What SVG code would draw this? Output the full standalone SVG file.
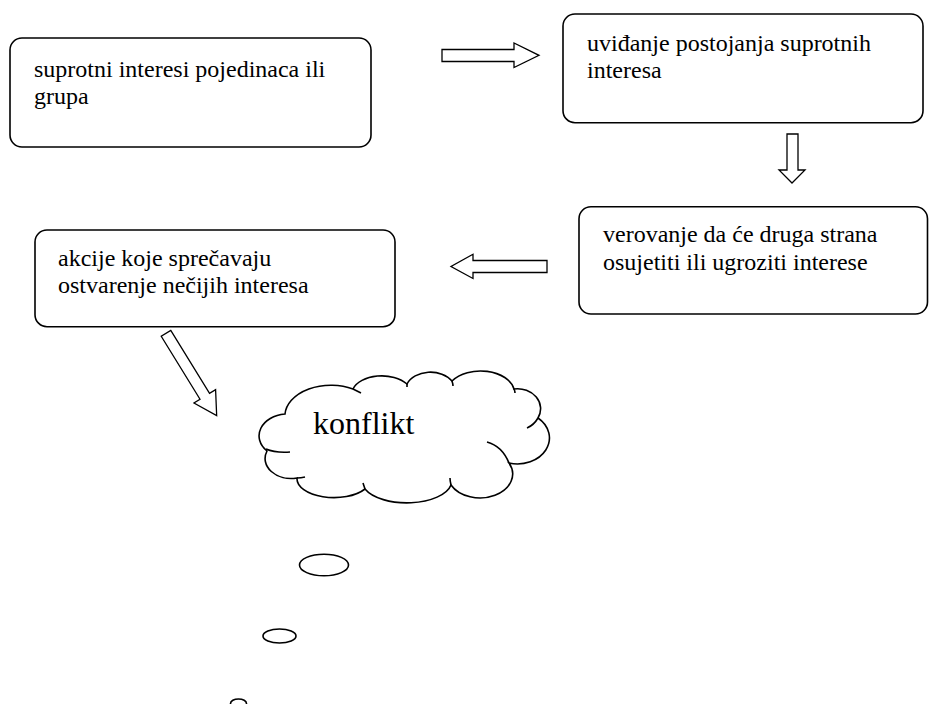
<svg xmlns="http://www.w3.org/2000/svg" width="929" height="704" viewBox="0 0 929 704">
<style>
.box{fill:#fff;stroke:#000;stroke-width:1.6}
.arr{fill:#fff;stroke:#000;stroke-width:1.3;stroke-linejoin:miter}
.lbl{font-family:'Liberation Serif','Times New Roman',serif;font-size:24px;fill:#000}
.cl{fill:#fff;stroke:#000;stroke-width:1.6}
.tail{fill:none;stroke:#000;stroke-width:1.6}
</style>
<rect width="929" height="704" fill="#fff"/>
<g id="connectors">
<polygon class="arr" points="442,49.5 514,49.5 514,43 539,55.3 514,67.5 514,61.5 442,61.5"/>
<polygon class="arr" points="787,134 798,134 798,170 805,170 792,183 779,170 787,170"/>
<polygon class="arr" points="547,260.5 473,260.5 473,254.3 451,266.5 473,278.5 473,272.5 547,272.5"/>
<polygon class="arr" transform="translate(166,333.3) rotate(58.4)" points="0,-5.6 74,-5.6 74,-12.7 96.7,0 74,12.7 74,5.6 0,5.6"/>
</g>
<g id="node1">
<rect class="box" x="10" y="38" width="361" height="109" rx="12"/>
<text class="lbl" font-family="Liberation Serif, serif" font-size="24" x="34" y="77">suprotni interesi pojedinaca ili</text>
<text class="lbl" font-family="Liberation Serif, serif" font-size="24" x="34" y="104">grupa</text>
</g>
<g id="node2">
<rect class="box" x="563" y="14" width="360" height="108.7" rx="12"/>
<text class="lbl" font-family="Liberation Serif, serif" font-size="24" x="587" y="51">uviđanje postojanja suprotnih</text>
<text class="lbl" font-family="Liberation Serif, serif" font-size="24" x="587" y="78">interesa</text>
</g>
<g id="node3">
<rect class="box" x="579" y="206.7" width="348.5" height="107.3" rx="12"/>
<text class="lbl" font-family="Liberation Serif, serif" font-size="24" x="603" y="242">verovanje da će druga strana</text>
<text class="lbl" font-family="Liberation Serif, serif" font-size="24" x="603" y="270">osujetiti ili ugroziti interese</text>
</g>
<g id="node4">
<rect class="box" x="35" y="230" width="360" height="96.7" rx="12"/>
<text class="lbl" font-family="Liberation Serif, serif" font-size="24" x="58" y="266">akcije koje sprečavaju</text>
<text class="lbl" font-family="Liberation Serif, serif" font-size="24" x="58" y="293">ostvarenje nečijih interesa</text>
</g>
<g id="cloud">
<path class="cl" d="M285 414 A46 31 0 0 1 353 389 A30 18 0 0 1 407 384 A25 18 0 0 1 452 381 A34 22 0 0 1 514 389 A23 20 0 0 1 538 418 A32 26 0 0 1 509 463 A30 22 0 0 1 451 485 A45 22 0 0 1 365 489 A37 19 0 0 1 297 478 A26 20 0 0 1 267 451 A29 22 0 0 1 285 414 Z"/>
<path class="tail" d="M266 449 Q275 453 290 452 M297 478 Q301 478 305 477 M365 489 Q364 486 363 483 M451 485 Q450 481 450 478 M487 442 Q502 446 509 463 M538 418 Q534 425 527 428 M514 389 Q515 391 515 393 M452 381 Q453 384 453 386 M407 384 Q407 386 407 387 M353 389 Q357 391 361 393"/>
<text font-family="Liberation Serif, serif" font-size="32" fill="#000" x="313" y="434">konflikt</text>
<ellipse class="cl" cx="324" cy="565" rx="24.5" ry="10.8"/>
<ellipse class="cl" cx="279.5" cy="636" rx="16.5" ry="7"/>
<ellipse class="cl" cx="238.5" cy="703.5" rx="8" ry="4.5"/>
</g>
</svg>
